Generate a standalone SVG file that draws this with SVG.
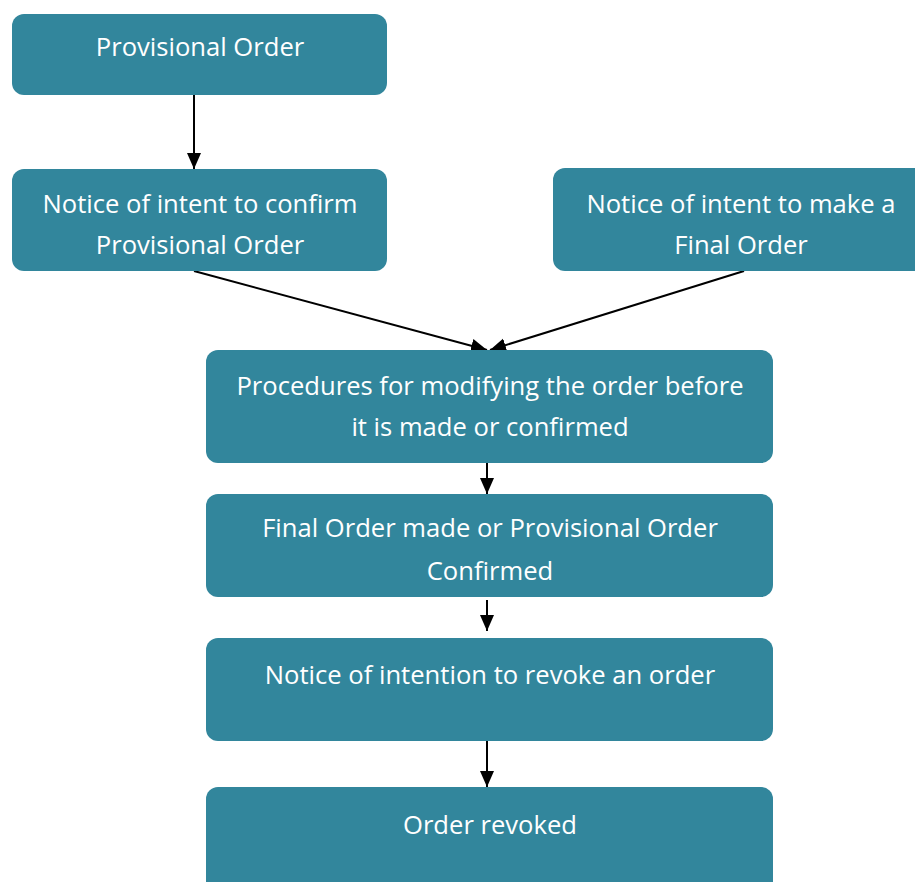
<svg xmlns="http://www.w3.org/2000/svg" width="915" height="882" viewBox="0 0 915 882">
<defs>
<style>
.box{fill:#32869C;}
.t{font-family:"Open Sans","Liberation Sans",sans-serif;font-size:25.6px;fill:#ffffff;text-anchor:middle;}
.c{stroke:#000;stroke-width:2;fill:none;marker-end:url(#ah);}
</style>
<marker id="ah" markerWidth="16" markerHeight="16" viewBox="0 0 16 16" refX="16" refY="8" orient="auto" markerUnits="userSpaceOnUse">
<path d="M0,1 L16,8 L0,15 Z" fill="#000"/>
</marker>
</defs>
<rect width="915" height="882" fill="#ffffff"/>
<g id="connectors">
<line class="c" x1="194" y1="95" x2="194" y2="169"/>
<line class="c" x1="194" y1="271" x2="487" y2="350"/>
<line class="c" x1="744" y1="271" x2="490" y2="350"/>
<line class="c" x1="487" y1="463" x2="487" y2="494"/>
<line class="c" x1="487" y1="600" x2="487" y2="631"/>
<line class="c" x1="487" y1="741" x2="487" y2="787"/>
</g>
<g id="n1"><rect class="box" x="12" y="14" width="375" height="81" rx="12"/><text class="t" x="200" y="56">Provisional Order</text></g>
<g id="n2"><rect class="box" x="12" y="169" width="375" height="102" rx="12"/><text class="t" x="200" y="213">Notice of intent to confirm</text><text class="t" x="200" y="254">Provisional Order</text></g>
<g id="n3"><rect class="box" x="553" y="168" width="380" height="103" rx="12"/><text class="t" x="741" y="213">Notice of intent to make a</text><text class="t" x="741" y="254">Final Order</text></g>
<g id="n4"><rect class="box" x="206" y="350" width="567" height="113" rx="12"/><text class="t" x="490" y="395">Procedures for modifying the order before</text><text class="t" x="490" y="436">it is made or confirmed</text></g>
<g id="n5"><rect class="box" x="206" y="494" width="567" height="103" rx="12"/><text class="t" x="490" y="537">Final Order made or Provisional Order</text><text class="t" x="490" y="580">Confirmed</text></g>
<g id="n6"><rect class="box" x="206" y="638" width="567" height="103" rx="12"/><text class="t" x="490" y="684">Notice of intention to revoke an order</text></g>
<g id="n7"><rect class="box" x="206" y="787" width="567" height="110" rx="12"/><text class="t" x="490" y="834">Order revoked</text></g>
</svg>
